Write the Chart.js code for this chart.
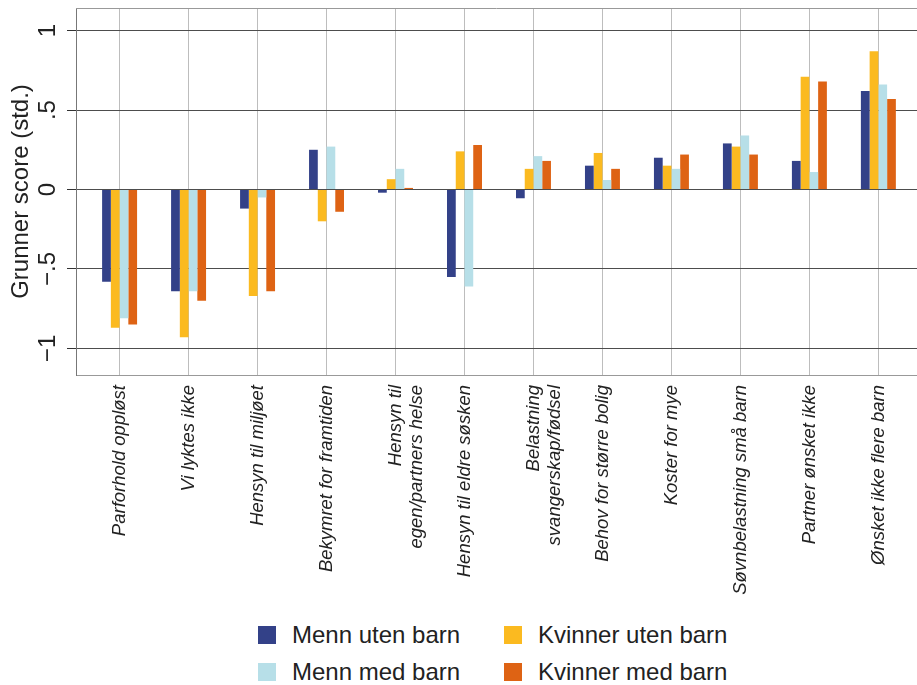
<!DOCTYPE html>
<html>
<head>
<meta charset="utf-8">
<script src="https://cdn.jsdelivr.net/npm/chart.js@4"></script>
<style>
  html, body { margin: 0; padding: 0; background: #fff; overflow: hidden; }
  #wrap { position: relative; width: 917px; height: 685px; }
  #chart { position: absolute; left: 0; top: 0; }
  #legend { position: absolute; left: 258px; top: 621px; font-family: 'Liberation Sans', Arial, sans-serif; font-size: 24px; color: #222; }
  .item { position: absolute; display: flex; align-items: center; white-space: nowrap; height: 28px; }
  .box { width: 18px; height: 18px; margin-right: 16px; }
</style>
</head>
<body>
<div id="wrap">
  <canvas id="chart" width="917" height="610"></canvas>
  <div id="legend"></div>
</div>
<script>
// categories (x axis)
const categories = [
  'Parforhold oppløst',
  'Vi lyktes ikke',
  'Hensyn til miljøet',
  'Bekymret for framtiden',
  ['Hensyn til', 'egen/partners helse'],
  'Hensyn til eldre søsken',
  ['Belastning', 'svangerskap/fødsel'],
  'Behov for større bolig',
  'Koster for mye',
  'Søvnbelastning små barn',
  'Partner ønsket ikke',
  'Ønsket ikke flere barn'
];

const mennUtenBarn    = [-0.58, -0.64, -0.12,  0.25, -0.02, -0.55, -0.055, 0.15, 0.20, 0.29, 0.18, 0.62];
const kvinnerUtenBarn = [-0.87, -0.93, -0.67, -0.20,  0.065, 0.24,  0.13,  0.23, 0.15, 0.27, 0.71, 0.87];
const mennMedBarn     = [-0.81, -0.64, -0.05,  0.27,  0.13, -0.61,  0.21,  0.06, 0.13, 0.34, 0.11, 0.66];
const kvinnerMedBarn  = [-0.85, -0.70, -0.64, -0.14,  0.01,  0.28,  0.18,  0.13, 0.22, 0.22, 0.68, 0.57];

const seriesNames = ['Menn uten barn', 'Kvinner uten barn', 'Menn med barn', 'Kvinner med barn'];
const seriesColors = ['#334188', '#fbba20', '#b7dfe8', '#de6314'];
const seriesValues = [mennUtenBarn, kvinnerUtenBarn, mennMedBarn, kvinnerMedBarn];

const yTicks = [-1, -0.5, 0, 0.5, 1];
const yTickLabels = ['\u22121', '\u2212.5', '0', '.5', '1'];

const FONT = "'Liberation Sans', Arial, sans-serif";

const frameTop = {
  id: 'frameTop',
  beforeDatasetsDraw(chart) {
    const { ctx, chartArea } = chart;
    ctx.save();
    ctx.strokeStyle = '#999';
    ctx.lineWidth = 1;
    ctx.beginPath();
    ctx.moveTo(chartArea.left, Math.round(chartArea.top) + 0.5);
    ctx.lineTo(chartArea.right, Math.round(chartArea.top) + 0.5);
    ctx.stroke();
    ctx.restore();
  }
};

const datasets = seriesNames.map((name, k) => ({
  label: name,
  data: seriesValues[k].map((v, i) => ({ x: i, y: v })),
  backgroundColor: seriesColors[k],
  borderWidth: 0,
  categoryPercentage: 0.507,
  barPercentage: 1.0
}));

new Chart(document.getElementById('chart'), {
  type: 'bar',
  data: { datasets: datasets },
  plugins: [frameTop],
  options: {
    responsive: false,
    animation: false,
    layout: { padding: { top: 8, left: 0, right: 0, bottom: 0 } },
    plugins: { legend: { display: false }, tooltip: { enabled: false } },
    scales: {
      x: {
        type: 'linear',
        offset: false,
        min: -0.632,
        max: 11.56,
        afterBuildTicks: s => { s.ticks = categories.map((c, i) => ({ value: i })); },
        afterFit: s => { s.height = 235; s.paddingLeft = 0; s.paddingRight = 0; },
        grid: { offset: false, color: '#bdbdbd', lineWidth: 1, drawTicks: false },
        border: { color: '#999', width: 1 },
        ticks: {
          autoSkip: false,
          minRotation: 90,
          maxRotation: 90,
          padding: 10,
          color: '#222',
          font: { family: FONT, size: 18.5, style: 'italic', lineHeight: 1.17 },
          callback: v => categories[v] ?? ''
        }
      },
      y: {
        min: -1.167,
        max: 1.142,
        afterBuildTicks: s => { s.ticks = yTicks.map(v => ({ value: v })); },
        afterFit: s => { s.width = 76; s.paddingTop = 0; s.paddingBottom = 0; },
        grid: { color: '#4d4d4d', lineWidth: 1, tickLength: 9, tickColor: '#333' },
        border: { color: '#777', width: 1 },
        ticks: {
          minRotation: 90,
          maxRotation: 90,
          crossAlign: 'center',
          padding: 2,
          color: '#222',
          font: { family: FONT, size: 24 },
          callback: v => yTickLabels[yTicks.indexOf(v)] ?? ''
        },
        title: {
          display: true,
          text: 'Grunner score (std.)',
          color: '#222',
          font: { family: FONT, size: 24 },
          padding: { top: 7, bottom: 0 }
        }
      }
    }
  }
});

// legend in two columns, as in the original
const legend = document.getElementById('legend');
const colX = [0, 246];
const rowY = [0, 37];
seriesNames.forEach((name, k) => {
  const item = document.createElement('div');
  item.className = 'item';
  item.style.left = colX[k % 2] + 'px';
  item.style.top = rowY[Math.floor(k / 2)] + 'px';
  item.innerHTML = '<span class="box" style="background:' + seriesColors[k] + '"></span><span>' + name + '</span>';
  legend.appendChild(item);
});
</script>
</body>
</html>
